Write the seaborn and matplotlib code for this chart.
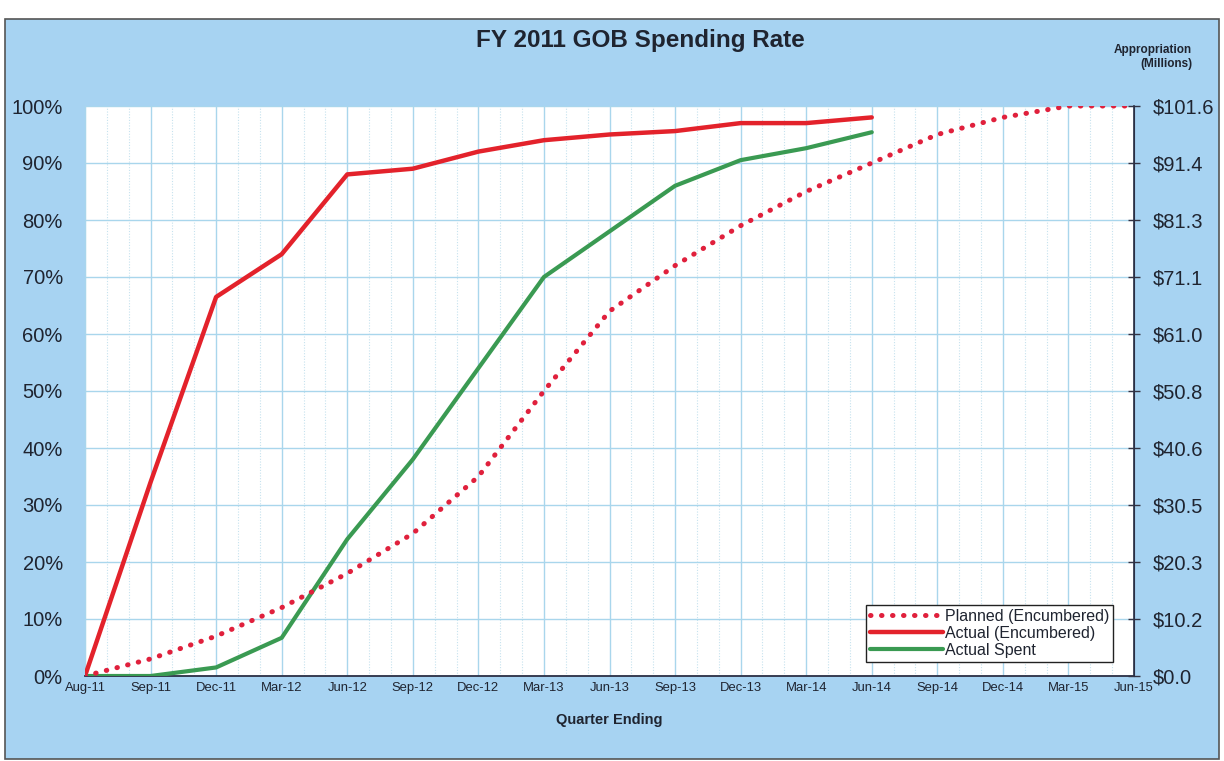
import numpy as np
import pandas as pd
import matplotlib
matplotlib.use("Agg")
import matplotlib.pyplot as plt
import seaborn as sns
from matplotlib.patches import Rectangle
from matplotlib.ticker import MultipleLocator

# quarter labels along the x axis
quarters = ['Aug-11', 'Sep-11', 'Dec-11', 'Mar-12', 'Jun-12', 'Sep-12', 'Dec-12', 'Mar-13',
            'Jun-13', 'Sep-13', 'Dec-13', 'Mar-14', 'Jun-14', 'Sep-14', 'Dec-14', 'Mar-15', 'Jun-15']

# percent values
planned_encumbered = [0, 3, 7, 12, 18, 25, 35, 50, 64, 72, 79, 85, 90, 95, 98, 100, 100]
actual_encumbered = [0, 34, 66.5, 74, 88, 89, 92, 94, 95, 95.6, 97, 97, 98]
actual_spent = [0, 0, 1.5, 6.7, 24, 38, 54, 70, 78, 86, 90.5, 92.6, 95.4]

appropriation_labels = ['$0.0', '$10.2', '$20.3', '$30.5', '$40.6', '$50.8',
                        '$61.0', '$71.1', '$81.3', '$91.4', '$101.6']

sns.set_style("white")
plt.rcParams['font.family'] = ['Liberation Sans', 'DejaVu Sans']

bg = '#a7d3f2'
grid_col = '#a9d6ec'
text_col = '#1f2430'

fig = plt.figure(figsize=(12.24, 7.61), dpi=100, facecolor='white')
fig.patches.append(Rectangle((0.004, 0.003), 0.992, 0.972, transform=fig.transFigure,
                             facecolor=bg, edgecolor='#555555', linewidth=1.2, zorder=-1))

ax = fig.add_axes([85 / 1224, 1 - 676 / 761, (1134 - 85) / 1224, (676 - 106) / 761])
ax.set_facecolor('white')

df = pd.DataFrame({
    'q': list(range(len(planned_encumbered))) + list(range(len(actual_encumbered))) + list(range(len(actual_spent))),
    'pct': planned_encumbered + actual_encumbered + actual_spent,
    'series': ['Planned (Encumbered)'] * len(planned_encumbered)
              + ['Actual (Encumbered)'] * len(actual_encumbered)
              + ['Actual Spent'] * len(actual_spent),
})

palette = {'Planned (Encumbered)': '#e0203c', 'Actual (Encumbered)': '#e3222b', 'Actual Spent': '#3a9a52'}
sns.lineplot(data=df, x='q', y='pct', hue='series', palette=palette, ax=ax, legend=False,
             linewidth=3.2, zorder=3)

lines = ax.get_lines()
for ln, name in zip(lines, ['Planned (Encumbered)', 'Actual (Encumbered)', 'Actual Spent']):
    ln.set_label(name)
planned_line = lines[0]
planned_line.set_linestyle((0, (0.1, 2.1)))
planned_line.set_dash_capstyle('round')
planned_line.set_linewidth(3.6)
planned_line.set_zorder(4)
lines[2].set_linewidth(3.0)

ax.set_xlim(0, len(quarters) - 1)
ax.set_ylim(0, 100)

# grid: quarters and monthly minor lines
ax.set_xticks(range(len(quarters)))
ax.set_xticklabels(quarters, fontsize=9.4, color=text_col)
ax.xaxis.set_minor_locator(MultipleLocator(1 / 3))
ax.yaxis.set_major_locator(MultipleLocator(10))
ax.grid(True, which='major', axis='both', color=grid_col, linewidth=1.0)
ax.grid(True, which='minor', axis='x', color='#c6e2ee', linewidth=0.8, linestyle=(0, (1, 1.5)))
ax.set_axisbelow(True)

ax.set_yticks(range(0, 101, 10))
ax.set_yticklabels([f'{v}%' for v in range(0, 101, 10)], fontsize=14.5, color=text_col)
ax.tick_params(axis='y', length=0, pad=16)
ax.tick_params(axis='x', which='major', direction='inout', length=6, width=1, color='#333344', pad=1)
ax.tick_params(axis='x', which='minor', length=0)

ax.spines['top'].set_visible(False)
ax.spines['left'].set_color(grid_col)
ax.spines['bottom'].set_color('#2a2f45')
ax.spines['bottom'].set_linewidth(1.3)
ax.spines['right'].set_color('#2a2f45')
ax.spines['right'].set_linewidth(1.2)

ax.set_xlabel('Quarter Ending', fontsize=10.5, fontweight='bold', labelpad=14, color=text_col)
ax.set_ylabel('')

ax2 = ax.twinx()
ax2.set_ylim(0, 100)
ax2.set_yticks(range(0, 101, 10))
ax2.set_yticklabels(appropriation_labels, fontsize=14.5, color=text_col)
ax2.tick_params(axis='y', direction='inout', length=9, width=1, color='#333344', pad=9)
for s in ['top', 'left', 'bottom']:
    ax2.spines[s].set_visible(False)
ax2.spines['right'].set_color('#2a2f45')
ax2.grid(False)

fig.text(640 / 1224, 1 - 40 / 761, 'FY 2011 GOB Spending Rate', ha='center', va='center',
         fontsize=17.5, fontweight='bold', color=text_col)
fig.text(1153 / 1224, 1 - 50 / 761, 'Appropriation', ha='center', va='center',
         fontsize=8.5, fontweight='bold', color=text_col)
fig.text(1166 / 1224, 1 - 64 / 761, '(Millions)', ha='center', va='center',
         fontsize=8.5, fontweight='bold', color=text_col)

leg = ax.legend(handles=lines, loc='lower right', bbox_to_anchor=(0.98, 0.025), fontsize=11.5,
                frameon=True, fancybox=False, edgecolor='#222222', framealpha=1,
                handlelength=4.6, handletextpad=0.1, borderpad=0.25, labelspacing=0.12,
                borderaxespad=0)
leg.get_frame().set_linewidth(1.0)
for t in leg.get_texts():
    t.set_color(text_col)
leg.set_zorder(10)

fig.savefig('out.png', dpi=100, facecolor=fig.get_facecolor())
